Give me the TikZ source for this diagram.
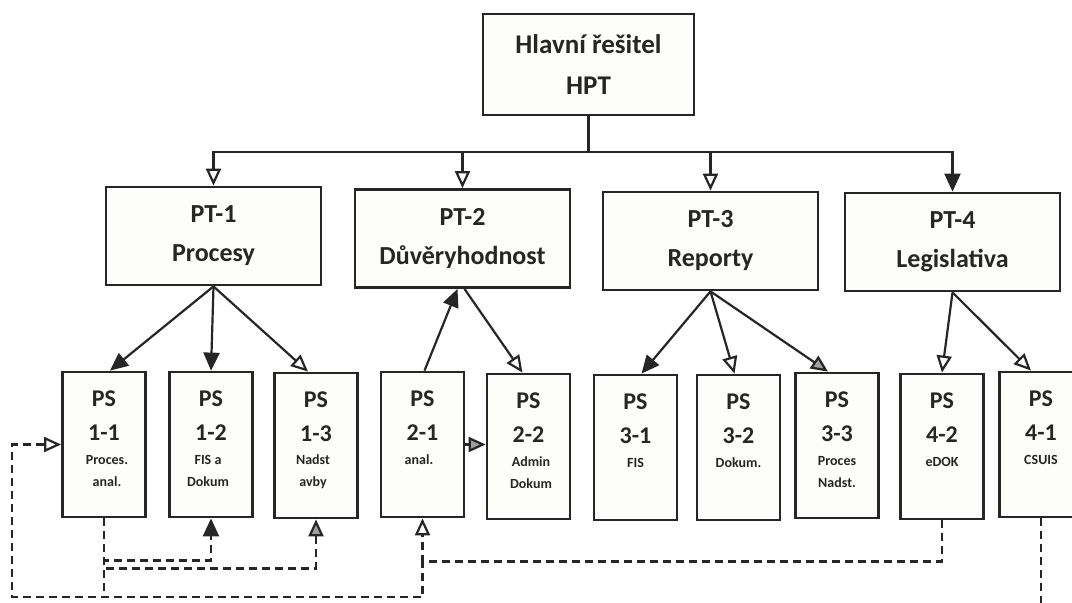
\documentclass[tikz,border=0pt]{standalone}
\usepackage{fontspec}
\setmainfont{Carlito}
\usetikzlibrary{arrows.meta,positioning}
\definecolor{inkdark}{HTML}{262626}
\definecolor{boxfill}{HTML}{fdfdfb}
\definecolor{tipgrey}{HTML}{a0a0a0}

\begin{document}
\begin{tikzpicture}[x=1pt,y=-1pt,
  box/.style={draw=inkdark,fill=boxfill,line width=2.8pt,inner sep=0pt,align=center,text=inkdark},
  hdbox/.style={box,minimum width=211pt,minimum height=101pt,font=\fontsize{27}{41}\selectfont\bfseries},
  ptbox/.style={box,minimum width=215pt,minimum height=98pt,font=\fontsize{26}{39}\selectfont\bfseries},
  psbox/.style={box,minimum width=83pt,minimum height=145pt},
  pshead/.style={align=center,inner sep=0pt,text=inkdark,font=\fontsize{24}{34}\selectfont\bfseries},
  psnote/.style={align=center,inner sep=0pt,text=inkdark,font=\fontsize{14}{22}\selectfont\bfseries},
  conn/.style={draw=inkdark,line width=2.2pt},
  dline/.style={conn,dash pattern=on 8pt off 5pt},
  tipfull/.style={-{Triangle[length=18pt,width=16pt]}},
  tipopen/.style={-{Triangle[length=17pt,width=15pt,fill=white]}},
  tipgrey/.style={-{Triangle[length=17pt,width=15pt,fill=tipgrey]}}]

\useasboundingbox (0,0) rectangle (1072,603);
\fill[white] (0,0) rectangle (1072,603);

% ===== TOP: main investigator =====
\node[hdbox] (hpt) at (588.5,64.5) {Hlavní řešitel\\HPT};
\coordinate (bus) at (588.5,152);

% ===== PT boxes =====
\node[ptbox] (pt1) at (213.5,236) {PT-1\\Procesy};
\node[ptbox] (pt2) at (462.5,238.5) {PT-2\\Důvěryhodnost};
\node[ptbox] (pt3) at (710.5,241) {PT-3\\Reporty};
\node[ptbox] (pt4) at (952.5,242) {PT-4\\Legislativa};

\draw[conn] (hpt.south) -- (bus);
\draw[conn,tipopen] (bus) -| (pt1.north);
\draw[conn,tipopen] (bus) -| (pt2.north);
\draw[conn,tipopen] (bus) -| (pt3.north);
\draw[conn,tipfull] (bus) -| (pt4.north);

% ===== PS boxes =====
\node[psbox] (ps11) at (104,444.5) {};
\node[pshead] (ps11h) at (104,416) {PS\\1-1};
\node[psnote] (ps11n) at (107,471) {Proces.\\anal.};

\node[psbox] (ps12) at (211,444.5) {};
\node[pshead] (ps12h) at (211,416) {PS\\1-2};
\node[psnote] (ps12n) at (208,471) {FIS a\\Dokum};

\node[psbox] (ps13) at (316,445.5) {};
\node[pshead] (ps13h) at (316,417) {PS\\1-3};
\node[psnote] (ps13n) at (313,472) {Nadst\\avby};

\node[psbox] (ps21) at (422.5,444.5) {};
\node[pshead] (ps21h) at (422.5,416) {PS\\2-1};
\node[psnote] (ps21n) at (419,460) {anal.};

\node[psbox] (ps22) at (528.5,446.5) {};
\node[pshead] (ps22h) at (528.5,418) {PS\\2-2};
\node[psnote] (ps22n) at (531,473) {Admin\\Dokum};

\node[psbox] (ps31) at (635.5,447.5) {};
\node[pshead] (ps31h) at (635.5,419) {PS\\3-1};
\node[psnote] (ps31n) at (635.5,463) {FIS};

\node[psbox] (ps32) at (738.5,447.5) {};
\node[pshead] (ps32h) at (738.5,419) {PS\\3-2};
\node[psnote] (ps32n) at (738.5,463) {Dokum.};

\node[psbox] (ps33) at (837,445.5) {};
\node[pshead] (ps33h) at (837,417) {PS\\3-3};
\node[psnote] (ps33n) at (837,472) {Proces\\Nadst.};

\node[psbox] (ps42) at (942,446.5) {};
\node[pshead] (ps42h) at (942,418) {PS\\4-2};
\node[psnote] (ps42n) at (942,462) {eDOK};

\node[psbox] (ps41) at (1041,444.5) {};
\node[pshead] (ps41h) at (1041,416) {PS\\4-1};
\node[psnote] (ps41n) at (1041,460) {CSUIS};

% ===== PT -> PS =====
\draw[conn,tipfull] (pt1.south) -- ([xshift=6pt]ps11.north);
\draw[conn,tipfull] (pt1.south) -- (ps12.north);
\draw[conn,tipopen] (pt1.south) -- ([xshift=-8pt]ps13.north);

\draw[conn,tipfull] ([xshift=2pt]ps21.north) -- ([xshift=-5pt]pt2.south);
\draw[conn,tipopen] ([xshift=2pt]pt2.south) -- ([xshift=-6pt]ps22.north);
\draw[conn,tipgrey] (ps21.east) -- (ps22.west |- ps21.east);

\draw[conn,tipfull] (pt3.south) -- ([xshift=6pt]ps31.north);
\draw[conn,tipopen] (pt3.south) -- ([xshift=-4pt]ps32.north);
\draw[conn,tipgrey] (pt3.south) -- ([xshift=-9pt]ps33.north);

\draw[conn,tipopen] (pt4.south) -- (ps42.north);
\draw[conn,tipopen] (pt4.south) -- ([xshift=-10pt]ps41.north);

% ===== dashed links =====
\coordinate (loopA) at (422.5,560);
\coordinate (loopB) at (12,597);

\draw[dline,tipfull] (ps11.south) -- ++(0,42) -| (ps12.south);
\draw[dline,tipgrey] (ps11.south) -- ++(0,50) -| (ps13.south);
\draw[dline] (ps11.south) -- (ps11.south |- loopB);

\draw[dline,tipopen] (ps42.south) -- ++(0,41) -| (ps21.south);
\draw[dline,tipopen] (loopA) |- (loopB) |- (ps11.west);

\draw[dline] (ps41.south) -- ++(0,90);

\end{tikzpicture}
\end{document}
